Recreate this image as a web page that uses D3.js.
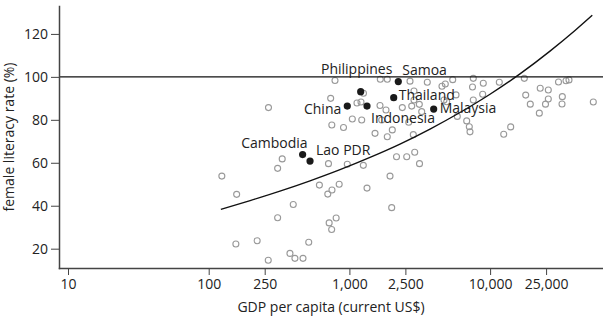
<!DOCTYPE html>
<html>
<head>
<meta charset="utf-8">
<script src="https://cdn.jsdelivr.net/npm/d3@7"></script>
<style>
    body { margin: 0; background: #fff; }
    svg { display: block; font-family: "Open Sans", sans-serif; }
    .axis path, .axis line { stroke: #444; }
    .axis path { stroke-width: 1.5; }
    .axis text { fill: #222; font-size: 14px; font-family: "Open Sans", sans-serif; }
</style>
</head>
<body>
<svg id="chart" width="603" height="320"></svg>
<script>
// other countries (grey rings)
let gdp = [
    124, 158, 156, 221, 265, 266, 309, 333, 309, 399,
    378, 410, 468, 514, 710, 966, 612, 752, 702, 846,
    718, 805, 748, 1256, 1334, 1944, 1998, 2162, 2555, 2912,
    3150, 790, 736, 750, 908, 1049, 1223, 1259, 1132, 1209,
    1658, 1859, 2696, 3578, 4550, 4804, 5423, 1650, 1820, 1697,
    1521, 1859, 2018, 2377, 2877, 2877, 2773, 3140, 3265, 2846,
    2640, 4703, 4916, 5724, 7596, 7497, 8946, 11627, 17506, 30628,
    34630, 36370, 8858, 7596, 17910, 19305, 22710, 25925, 25925, 24760,
    22380, 32610, 32440, 54140, 5847, 6818, 7115, 7196, 12496, 14010,
];
let literacy = [
    53.8, 45.3, 22.2, 23.7, 14.6, 85.7, 57.4, 61.8, 34.4, 40.6,
    17.8, 15.5, 15.5, 23.0, 59.6, 59.3, 49.6, 47.3, 45.4, 50.0,
    32.0, 34.3, 28.9, 58.8, 48.2, 53.8, 39.1, 62.8, 62.8, 64.9,
    59.6, 98.3, 90.0, 77.6, 76.4, 80.4, 79.9, 92.4, 87.8, 88.3,
    98.9, 98.9, 98.0, 97.5, 95.6, 96.7, 98.7, 86.7, 84.6, 79.9,
    73.7, 72.1, 75.3, 85.7, 93.4, 89.2, 86.4, 87.2, 83.8, 73.1,
    78.9, 89.2, 88.4, 91.6, 99.3, 95.3, 97.0, 97.5, 99.3, 97.6,
    98.2, 98.6, 91.9, 89.2, 91.5, 87.3, 94.7, 93.9, 89.7, 87.3,
    83.1, 90.8, 87.4, 88.3, 81.6, 79.5, 76.8, 74.4, 73.3, 76.7,
];

// highlighted countries
let countries = ['Philippines', 'Samoa', 'Thailand', 'China', 'Indonesia', 'Malaysia', 'Cambodia', 'Lao PDR'];
let countryGdp = [1203, 2226, 2065, 966, 1334, 3972, 465, 525];
let countryLiteracy = [93.1, 97.8, 90.3, 86.4, 86.4, 85.0, 63.8, 60.8];

// fitted curve
let fitGdp = [122, 197, 321, 525, 858, 1401, 2288, 3740, 6109, 9984, 16310, 26650, 40130, 53260];
let fitLiteracy = [38.3, 42.4, 46.8, 51.6, 56.8, 62.5, 68.7, 75.7, 83.4, 91.9, 101.4, 112.0, 121.6, 128.7];

let xTicks = [10, 100, 250, 1000, 2500, 10000, 25000];
let yTicks = [20, 40, 60, 80, 100, 120];

// label placement relative to its dot
let labelPos = {
    'Philippines': { dx: -4, dy: -18, anchor: 'middle' },
    'Samoa': { dx: 4, dy: -7, anchor: 'start' },
    'Thailand': { dx: 5, dy: 2, anchor: 'start' },
    'China': { dx: -6, dy: 8, anchor: 'end' },
    'Indonesia': { dx: 4, dy: 17, anchor: 'start' },
    'Malaysia': { dx: 6, dy: 4, anchor: 'start' },
    'Cambodia': { dx: 5, dy: -7, anchor: 'end' },
    'Lao PDR': { dx: 6, dy: -6, anchor: 'start' },
};

function drawChart() {
    const width = 603,
        height = 320;
    const margin = { top: 6, right: 0, bottom: 52, left: 59 };

    let svg = d3.select('#chart');

    let x = d3.scaleLog()
        .domain([8.63, 63450])
        .range([margin.left, width - margin.right]);
    let y = d3.scaleLinear()
        .domain([11, 133])
        .range([height - margin.bottom, margin.top]);

    // grey rings
    svg.append('g')
        .selectAll('circle')
        .data(gdp)
        .enter()
        .append('circle')
        .attr('cx', (d) => x(d))
        .attr('cy', (d, i) => y(literacy[i]))
        .attr('r', 3)
        .style('fill', 'none')
        .style('stroke', '#999')
        .style('stroke-width', 1.1);

    // 100% line
    svg.append('line')
        .attr('x1', margin.left)
        .attr('x2', width - margin.right)
        .attr('y1', y(100))
        .attr('y2', y(100))
        .style('stroke', '#111')
        .style('stroke-width', 1.2);

    let line = d3.line()
        .x((d) => x(d))
        .y((d, i) => y(fitLiteracy[i]))
        .curve(d3.curveMonotoneX);

    svg.append('path')
        .attr('d', line(fitGdp))
        .style('fill', 'none')
        .style('stroke', '#111')
        .style('stroke-width', 1.4);

    svg.append('g')
        .selectAll('circle')
        .data(countryGdp)
        .enter()
        .append('circle')
        .attr('cx', (d) => x(d))
        .attr('cy', (d, i) => y(countryLiteracy[i]))
        .attr('r', 3.6)
        .style('fill', '#1a1a1a');

    svg.append('g')
        .selectAll('text')
        .data(countries)
        .enter()
        .append('text')
        .attr('x', (d, i) => x(countryGdp[i]) + labelPos[d].dx)
        .attr('y', (d, i) => y(countryLiteracy[i]) + labelPos[d].dy)
        .attr('text-anchor', (d) => labelPos[d].anchor)
        .style('font-size', '14px')
        .style('fill', '#222')
        .text((d) => d);

    // axes
    svg.append('g')
        .attr('class', 'axis')
        .attr('transform', `translate(0, ${height - margin.bottom})`)
        .call(d3.axisBottom(x)
            .tickValues(xTicks)
            .tickFormat(d3.format(','))
            .tickSize(7)
            .tickSizeOuter(0)
            .tickPadding(4));

    svg.append('g')
        .attr('class', 'axis')
        .attr('transform', `translate(${margin.left}, 0)`)
        .call(d3.axisLeft(y)
            .tickValues(yTicks)
            .tickSize(8)
            .tickSizeOuter(0)
            .tickPadding(3));

    svg.selectAll('.axis .domain').attr('stroke-linecap', 'square');

    svg.append('text')
        .attr('x', (margin.left + width - margin.right) / 2)
        .attr('y', 312)
        .attr('text-anchor', 'middle')
        .style('font-size', '14px')
        .style('fill', '#222')
        .text('GDP per capita (current US$)');

    svg.append('text')
        .attr('transform', `translate(14, ${(margin.top + height - margin.bottom) / 2}) rotate(-90)`)
        .attr('text-anchor', 'middle')
        .style('font-size', '14px')
        .style('fill', '#222')
        .text('female literacy rate (%)');
}

drawChart();
</script>
</body>
</html>
